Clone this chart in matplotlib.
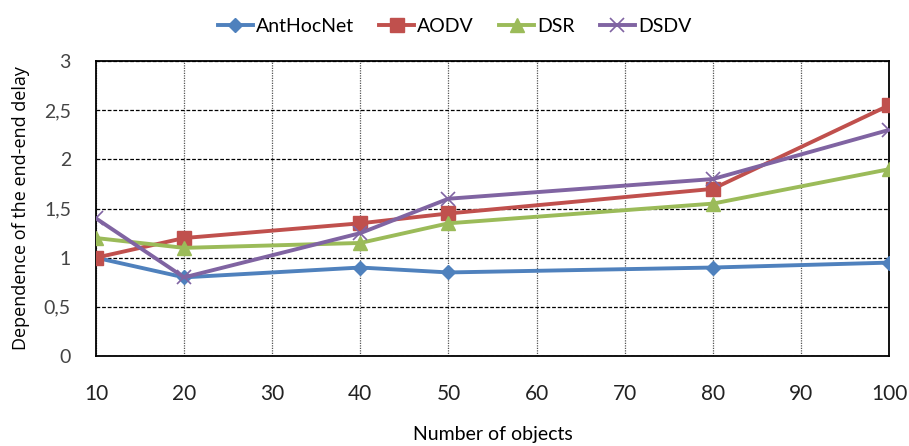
import matplotlib.pyplot as plt
from matplotlib.ticker import FuncFormatter

# number of objects in the network
objects = [10, 20, 40, 50, 80, 100]

# end-to-end delay per routing protocol
anthocnet = [1.0, 0.8, 0.9, 0.85, 0.9, 0.95]
aodv = [1.0, 1.2, 1.35, 1.45, 1.7, 2.55]
dsr = [1.2, 1.1, 1.15, 1.35, 1.55, 1.9]
dsdv = [1.4, 0.8, 1.25, 1.6, 1.8, 2.3]

x_ticks = [10, 20, 30, 40, 50, 60, 70, 80, 90, 100]
y_ticks = [0, 0.5, 1, 1.5, 2, 2.5, 3]

narrow = 'Lato'

fig = plt.figure(figsize=(9.09, 4.46), dpi=100)
ax = fig.add_axes([0.1056, 0.2018, 0.8724, 0.6612])

ax.plot(objects, anthocnet, color='#4F81BD', lw=2.8, marker='D', ms=7, label='AntHocNet', zorder=3)
ax.plot(objects, aodv, color='#C0504D', lw=2.8, marker='s', ms=10, label='AODV', zorder=3)
ax.plot(objects, dsr, color='#9BBB59', lw=2.8, marker='^', ms=10, label='DSR', zorder=3)
ax.plot(objects, dsdv, color='#8064A2', lw=2.8, marker='x', ms=10, mew=1.2, label='DSDV', zorder=3)

ax.set_xlim(10, 100)
ax.set_ylim(0, 3)
ax.set_xticks(x_ticks)
ax.set_yticks(y_ticks)
ax.yaxis.set_major_formatter(FuncFormatter(lambda v, p: ('%g' % v).replace('.', ',')))

ax.grid(axis='y', color='black', linestyle=(0, (3, 1.5)), lw=0.9)
ax.grid(axis='x', color='#555555', linestyle=(0, (1, 1)), lw=0.9)
ax.set_axisbelow(True)

for side in ['left', 'bottom', 'right', 'top']:
    ax.spines[side].set_linewidth(1.3)
    ax.spines[side].set_color('black')

ax.tick_params(axis='both', length=0)
ax.tick_params(axis='x', pad=20, labelsize=15, labelcolor='#222222')
ax.tick_params(axis='y', pad=18, labelsize=14, labelcolor='#444444')
for lbl in ax.get_xticklabels():
    lbl.set_family(narrow)
for lbl in ax.get_yticklabels():
    lbl.set_family('Lato')

ax.set_xlabel('Number of objects', fontsize=14, family=narrow, labelpad=16)
ax.set_ylabel('Dependence of the end-end delay', fontsize=13, family='Open Sans', labelpad=10)

fig.legend(loc='upper center', bbox_to_anchor=(0.5, 1.0), ncol=4, frameon=False,
           prop={'family': narrow, 'size': 14},
           handlelength=1.8, handletextpad=0.15, columnspacing=1.3)

fig.savefig('out.png', dpi=100)
